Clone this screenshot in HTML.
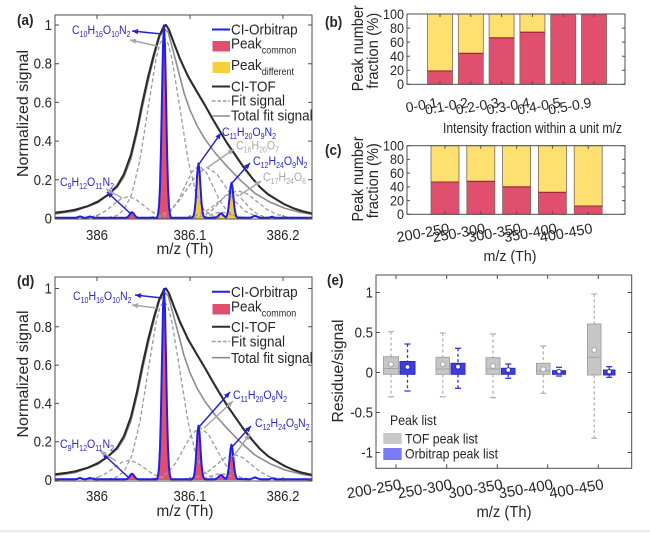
<!DOCTYPE html>
<html><head><meta charset="utf-8">
<style>
html,body{margin:0;padding:0;background:#fff;}
svg{display:block;}
text{font-family:"Liberation Sans",Arial,sans-serif;fill:#262626;}
.tk{font-size:15px;}
.tkb{font-size:14px;}
.lb{font-size:16px;}
.pl{font-size:15px;font-weight:bold;}
.lg{font-size:15px;}
.an{font-size:12px;fill:#2a2ac0;}
.ag{font-size:12px;fill:#a8a8a8;}
.sb{font-size:8px;}
.ls{font-size:10px;}
.fit{fill:none;stroke:#9a9a9a;stroke-width:1.3;stroke-dasharray:4 2.5;}
.tot{fill:none;stroke:#8c8c8c;stroke-width:1.6;stroke-linejoin:round;}
.tof{fill:none;stroke:#2b2b2b;stroke-width:2.1;stroke-linejoin:round;}
.blu{fill:none;stroke:#1f1fe6;stroke-width:2;stroke-linejoin:round;}
.ab{stroke:#2222d0;stroke-width:1.5;}
.agl{stroke:#a6a6a6;stroke-width:1.5;}
</style></head><body>
<svg width="650" height="533" viewBox="0 0 650 533" xmlns="http://www.w3.org/2000/svg">
<rect width="650" height="533" fill="#fff"/>
<defs>
<clipPath id="ca"><rect x="55" y="15" width="257" height="204"/></clipPath>
<clipPath id="cd"><rect x="55" y="277" width="257" height="204"/></clipPath>
</defs>

<!-- ===== Panel (a) curves ===== -->
<g clip-path="url(#ca)">
<polygon fill="#e0506e" points="157,218.5 158,214.4 159,206.3 160,186.3 161,148.4 162,95.3 163,45.8 164,25.2 165,45.8 166,95.3 167,148.4 168,186.3 169,206.3 170,214.4 171,218.5"/>
<polygon fill="#e0506e" points="126,218.5 127,217.3 128,216.7 129,215.6 130,214.1 131,212.8 132,212.3 133,212.8 134,214.1 135,215.6 136,216.7 137,217.3 138,218.5"/>
<polygon fill="#f2c93a" points="192,218.5 192.5,217.3 193.5,216 194.5,211.8 195.5,202.1 196.5,186.5 197.5,170.5 198.5,163.5 199.5,170.5 200.5,186.5 201.5,202.1 202.5,211.8 203.5,216 204.5,217.3 205,218.5"/>
<polygon fill="#f2c93a" points="215,218.5 216,217.4 217,216.9 218,216 219,214.9 220,213.8 221,213.4 222,213.8 223,214.9 224,216 225,216.9 226,217.4 227,218.5"/>
<polygon fill="#f2c93a" points="225.5,218.5 226.5,216.6 227.5,213.9 228.5,207.7 229.5,197.7 230.5,187.4 231.5,182.9 232.5,187.4 233.5,197.7 234.5,207.7 235.5,213.9 236.5,216.6 237.5,218.5"/>

<polyline class="fit" points="108,217.5 116,215.9 124,210 132,193.5 140,159.5 148,108.7 156,59 160,43.4 164,37.9 168,43.4 172,59 180,108.7 188,159.5 196,193.5 204,210 212,215.9 220,217.5"/>
<polyline class="fit" points="90.5,217 98,215 105.5,211 113,205 120.5,199.1 128,196.6 135.5,199.1 143,205 150.5,211 158,215 165.5,217"/>
<polyline class="fit" points="157,217.3 164,215.6 171,210.8 178,200.9 185,186.2 192,171.8 199,165.7 206,171.8 213,186.2 220,200.9 227,210.8 234,215.6 241,217.3"/>
<polyline class="fit" points="150,217.3 159.5,215.7 169,211.1 178.5,201.6 188,187.4 197.5,173.5 207,167.6 216.5,173.5 226,187.4 235.5,201.6 245,211.1 254.5,215.7 264,217.3"/>
<polyline class="fit" points="193,217.6 199.5,216.8 206,214.5 212.5,209.7 219,202.6 225.5,195.6 232,192.7 238.5,195.6 245,202.6 251.5,209.7 258,214.5 264.5,216.8 271,217.6"/>
<polyline class="fit" points="181,217.6 190.5,216.7 200,214.2 209.5,209.1 219,201.5 228.5,194 238,190.8 247.5,194 257,201.5 266.5,209.1 276,214.2 285.5,216.7 295,217.6"/>
<polyline class="fit" points="203,217.1 207.5,216 212,214.4 216.5,212.8 221,212.1 225.5,212.8 230,214.4 234.5,216 239,217.1"/>
<polyline class="fit" points="55,217.9 90,217.9"/>
<polyline class="fit" points="264,217.9 312,217.9"/>

<polyline class="tot" points="55,213.9 75,211.1 98,202.6 117,187.5 124,176.9 131,158.5 137,133.4 143,104.3 149,77.3 155,53.1 160,35.6 164,28.9 168,31.8 173,50.2 178,69.5 184,92.7 190,110.1 197,125.6 205,139.2 215,152.7 227,166.3 240,179.8 255,193.3 270,202.1 285,208.4 300,212.3 312,214.2"/>
<polyline class="tof" points="55,212.7 65,211.5 75,209.8 88,206.1 98,201.5 108,194.9 117,186 124,174 131,154.6 137,129.5 142,104.3 148,77.3 154,54 159,36.6 163.5,27 166,25 169,29.8 174,43.4 180,58.9 188,76.3 197,91.8 205,105.3 212,117.9 220,131.4 227,143 235,154.6 243,166.3 252,177.9 260,187.2 268,194.3 277,199.9 285,204.6 293,208.1 302,211.1 312,213.5"/>
<polyline class="blu" points="55,217.7 76,217.7 80,216.5 84,217.7 86,217.7 90,216.5 94,217.7 126,217.7 127,217.3 128,216.7 129,215.6 130,214.1 131,212.8 132,212.3 133,212.8 134,214.1 135,215.6 136,216.7 137,217.3 138,217.7 157,217.7 158,214.4 159,206.3 160,186.3 161,148.4 162,95.3 163,45.8 164,25.2 165,45.8 166,95.3 167,148.4 168,186.3 169,206.3 170,214.4 171,217.7 192,217.7 192.5,217.3 193.5,216 194.5,211.8 195.5,202.1 196.5,186.5 197.5,170.5 198.5,163.5 199.5,170.5 200.5,186.5 201.5,202.1 202.5,211.8 203.5,216 204.5,217.3 205,217.7 215,217.7 216,217.4 217,216.9 218,216 219,214.9 220,213.8 221,213.4 222,213.8 223,214.9 224,216 225,216.9 226,217.4 226.5,216.6 227.5,213.9 228.5,207.7 229.5,197.7 230.5,187.4 231.5,182.9 232.5,187.4 233.5,197.7 234.5,207.7 235.5,213.9 236.5,216.6 237.5,217.5 250,217.7 253,216.7 255,215.8 257,216.7 260,217.7 269,217.7 272,216.7 275,217.7 312,217.7"/>
</g>

<!-- ===== Panel (d) curves ===== -->
<g clip-path="url(#cd)">
<polygon fill="#e0506e" points="157,480 158,476 159,468 160,448.1 161,410.6 162,358 163,309.1 164,288.7 165,309.1 166,358 167,410.6 168,448.1 169,468 170,476 171,480"/>
<polygon fill="#e0506e" points="126,480 127,478.8 128,478.2 129,477.1 130,475.6 131,474.3 132,473.8 133,474.3 134,475.6 135,477.1 136,478.2 137,478.8 138,480"/>
<polygon fill="#e0506e" points="192,480 192.5,478.8 193.5,477.5 194.5,473.4 195.5,463.8 196.5,448.4 197.5,432.5 198.5,425.6 199.5,432.5 200.5,448.4 201.5,463.8 202.5,473.4 203.5,477.5 204.5,478.8 205,480"/>
<polygon fill="#e0506e" points="215,480 216,478.9 217,478.4 218,477.5 219,476.4 220,475.4 221,475 222,475.4 223,476.4 224,477.5 225,478.4 226,478.9 227,480"/>
<polygon fill="#e0506e" points="225.5,480 226.5,478.1 227.5,475.4 228.5,469.3 229.5,459.4 230.5,449.1 231.5,444.7 232.5,449.1 233.5,459.4 234.5,469.3 235.5,475.4 236.5,478.1 237.5,480"/>

<polyline class="fit" points="108,479 116,477.4 124,471.6 132,455.3 140,421.6 148,371.4 156,322.2 160,306.8 164,301.3 168,306.8 172,322.2 180,371.4 188,421.6 196,455.3 204,471.6 212,477.4 220,479"/>
<polyline class="fit" points="91.5,478.6 99,476.8 106.5,473.2 114,467.8 121.5,462.5 129,460.2 136.5,462.5 144,467.8 151.5,473.2 159,476.8 166.5,478.6"/>
<polyline class="fit" points="152,478.8 160,477.1 168,472.4 176,462.6 184,448 192,433.8 200,427.7 208,433.8 216,448 224,462.6 232,472.4 240,477.1 248,478.8"/>
<polyline class="fit" points="183,479.1 191.5,478.3 200,476 208.5,471.3 217,464.3 225.5,457.4 234,454.5 242.5,457.4 251,464.3 259.5,471.3 268,476 276.5,478.3 285,479.1"/>
<polyline class="fit" points="203,478.6 207.5,477.5 212,475.9 216.5,474.4 221,473.7 225.5,474.4 230,475.9 234.5,477.5 239,478.6"/>
<polyline class="fit" points="55,479.4 92,479.4"/>
<polyline class="fit" points="285,479.4 312,479.4"/>

<polyline class="tot" points="55,475.4 75,472.7 98,464.3 117,449.4 124,438.8 131,420.6 137,395.7 143,367 149,340.2 155,316.3 160,299 164,292.3 168,295.2 173,313.4 178,332.5 184,355.5 190,372.8 197,388.1 205,401.5 215,414.9 227,428.3 240,441.7 255,455.1 270,463.7 285,470 300,473.9 312,475.8"/>
<polyline class="tof" points="55,474.3 65,473.1 75,471.4 88,467.7 98,463.1 108,456.6 117,447.8 124,436 131,416.8 137,391.9 142,367 148,340.2 154,317.2 159,300 163.5,290.4 166,288.5 169,293.3 174,306.7 180,322 188,339.2 197,354.6 205,368 212,380.4 220,393.8 227,405.3 235,416.8 243,428.3 252,439.8 260,449 268,456.1 277,461.6 285,466.2 293,469.7 302,472.7 312,475"/>
<polyline class="blu" points="55,479.2 76,479.2 80,478 84,479.2 86,479.2 90,478 94,479.2 126,479.2 127,478.8 128,478.2 129,477.1 130,475.6 131,474.3 132,473.8 133,474.3 134,475.6 135,477.1 136,478.2 137,478.8 138,479.2 157,479.2 158,476 159,468 160,448.1 161,410.6 162,358 163,309.1 164,288.7 165,309.1 166,358 167,410.6 168,448.1 169,468 170,476 171,479.2 192,479.2 192.5,478.8 193.5,477.5 194.5,473.4 195.5,463.8 196.5,448.4 197.5,432.5 198.5,425.6 199.5,432.5 200.5,448.4 201.5,463.8 202.5,473.4 203.5,477.5 204.5,478.8 205,479.2 215,479.2 216,478.9 217,478.4 218,477.5 219,476.4 220,475.4 221,475 222,475.4 223,476.4 224,477.5 225,478.4 226,478.9 226.5,478.1 227.5,475.4 228.5,469.3 229.5,459.4 230.5,449.1 231.5,444.7 232.5,449.1 233.5,459.4 234.5,469.3 235.5,475.4 236.5,478.1 237.5,479 250,479.2 253,478.2 255,477.3 257,478.2 260,479.2 269,479.2 272,478.2 275,479.2 312,479.2"/>
</g>

<!-- ===== Bars (b) ===== -->
<g stroke="none">
<rect x="427.5" y="14" width="25" height="70.3" fill="#fde070"/>
<rect x="458.3" y="14" width="25" height="70.3" fill="#fde070"/>
<rect x="489.1" y="14" width="25" height="70.3" fill="#fde070"/>
<rect x="519.9" y="14" width="25" height="70.3" fill="#fde070"/>
<rect x="427.5" y="70.94" width="25" height="13.36" fill="#e0506e"/>
<rect x="458.3" y="53.37" width="25" height="30.93" fill="#e0506e"/>
<rect x="489.1" y="37.9" width="25" height="46.4" fill="#e0506e"/>
<rect x="519.9" y="32.28" width="25" height="52.02" fill="#e0506e"/>
<rect x="550.7" y="14" width="25" height="70.3" fill="#e0506e"/>
<rect x="581.5" y="14" width="25" height="70.3" fill="#e0506e"/>
</g>
<g fill="none" stroke="#7a6a5a" stroke-width="0.8">
<rect x="427.5" y="14" width="25" height="70.3"/>
<rect x="458.3" y="14" width="25" height="70.3"/>
<rect x="489.1" y="14" width="25" height="70.3"/>
<rect x="519.9" y="14" width="25" height="70.3"/>
<rect x="550.7" y="14" width="25" height="70.3"/>
<rect x="581.5" y="14" width="25" height="70.3"/>
</g>
<g stroke="#9b2a3a" stroke-width="1.2">
<line x1="427.5" y1="70.94" x2="452.5" y2="70.94"/>
<line x1="458.3" y1="53.37" x2="483.3" y2="53.37"/>
<line x1="489.1" y1="37.9" x2="514.1" y2="37.9"/>
<line x1="519.9" y1="32.28" x2="544.9" y2="32.28"/>
</g>

<!-- ===== Bars (c) ===== -->
<g stroke="none">
<rect x="431" y="145.7" width="28" height="68.6" fill="#fde070"/>
<rect x="466.8" y="145.7" width="28" height="68.6" fill="#fde070"/>
<rect x="502.6" y="145.7" width="28" height="68.6" fill="#fde070"/>
<rect x="538.4" y="145.7" width="28" height="68.6" fill="#fde070"/>
<rect x="574.2" y="145.7" width="28" height="68.6" fill="#fde070"/>
<rect x="431" y="182.06" width="28" height="32.24" fill="#e0506e"/>
<rect x="466.8" y="181.37" width="28" height="32.93" fill="#e0506e"/>
<rect x="502.6" y="186.86" width="28" height="27.44" fill="#e0506e"/>
<rect x="538.4" y="192.35" width="28" height="21.95" fill="#e0506e"/>
<rect x="574.2" y="206.07" width="28" height="8.23" fill="#e0506e"/>
</g>
<g fill="none" stroke="#7a6a5a" stroke-width="0.8">
<rect x="431" y="145.7" width="28" height="68.6"/>
<rect x="466.8" y="145.7" width="28" height="68.6"/>
<rect x="502.6" y="145.7" width="28" height="68.6"/>
<rect x="538.4" y="145.7" width="28" height="68.6"/>
<rect x="574.2" y="145.7" width="28" height="68.6"/>
</g>
<g stroke="#9b2a3a" stroke-width="1.2">
<line x1="431" y1="182.06" x2="459" y2="182.06"/>
<line x1="466.8" y1="181.37" x2="494.8" y2="181.37"/>
<line x1="502.6" y1="186.86" x2="530.6" y2="186.86"/>
<line x1="538.4" y1="192.35" x2="566.4" y2="192.35"/>
<line x1="574.2" y1="206.07" x2="602.2" y2="206.07"/>
</g>

<!-- ===== Boxplots (e) ===== -->
<g stroke="#b4b4b4" stroke-width="1.3" stroke-dasharray="3 2.5">
<line x1="391" y1="331.7" x2="391" y2="356.7"/><line x1="391" y1="374.3" x2="391" y2="396.7"/>
<line x1="442.75" y1="333" x2="442.75" y2="357.3"/><line x1="442.75" y1="374.3" x2="442.75" y2="396.7"/>
<line x1="493" y1="334" x2="493" y2="357.7"/><line x1="493" y1="374.3" x2="493" y2="397.7"/>
<line x1="543.25" y1="346" x2="543.25" y2="363.3"/><line x1="543.25" y1="374.3" x2="543.25" y2="393.3"/>
<line x1="594.25" y1="294" x2="594.25" y2="324"/><line x1="594.25" y1="375" x2="594.25" y2="438.3"/>
</g>
<g stroke="#b4b4b4" stroke-width="1.3">
<line x1="388" y1="331.7" x2="394" y2="331.7"/><line x1="388" y1="396.7" x2="394" y2="396.7"/>
<line x1="439.75" y1="333" x2="445.75" y2="333"/><line x1="439.75" y1="396.7" x2="445.75" y2="396.7"/>
<line x1="490" y1="334" x2="496" y2="334"/><line x1="490" y1="397.7" x2="496" y2="397.7"/>
<line x1="540.25" y1="346" x2="546.25" y2="346"/><line x1="540.25" y1="393.3" x2="546.25" y2="393.3"/>
<line x1="591.25" y1="294" x2="597.25" y2="294"/><line x1="591.25" y1="438.3" x2="597.25" y2="438.3"/>
</g>
<g fill="#c6c6c6" stroke="#a4a4a4" stroke-width="1">
<rect x="383.5" y="356.7" width="15" height="17.6"/>
<rect x="436" y="357.3" width="13.5" height="17"/>
<rect x="486" y="357.7" width="14" height="16.6"/>
<rect x="536.5" y="363.3" width="13.5" height="11"/>
<rect x="587.5" y="324" width="13.5" height="51"/>
</g>
<g stroke="#a4a4a4" stroke-width="1">
<line x1="383.5" y1="368.5" x2="398.5" y2="368.5"/>
<line x1="436" y1="369" x2="449.5" y2="369"/>
<line x1="486" y1="369" x2="500" y2="369"/>
<line x1="536.5" y1="371" x2="550" y2="371"/>
<line x1="587.5" y1="357.3" x2="601" y2="357.3"/>
</g>
<g fill="#fff" stroke="#a4a4a4" stroke-width="1">
<circle cx="391" cy="364.3" r="2.4"/>
<circle cx="442.75" cy="364.3" r="2.4"/>
<circle cx="493" cy="366" r="2.4"/>
<circle cx="543.25" cy="369.3" r="2.4"/>
<circle cx="594.25" cy="350" r="2.4"/>
</g>
<g stroke="#3434d4" stroke-width="1.3" stroke-dasharray="3 2.5">
<line x1="407.5" y1="344" x2="407.5" y2="361.5"/><line x1="407.5" y1="374.3" x2="407.5" y2="391"/>
<line x1="458" y1="348.3" x2="458" y2="363.3"/><line x1="458" y1="374.3" x2="458" y2="388.3"/>
<line x1="508.25" y1="364" x2="508.25" y2="368.3"/><line x1="508.25" y1="374.3" x2="508.25" y2="378.3"/>
<line x1="609.25" y1="366.7" x2="609.25" y2="370"/><line x1="609.25" y1="375" x2="609.25" y2="377.3"/>
</g>
<g stroke="#3434d4" stroke-width="1.3">
<line x1="404.5" y1="344" x2="410.5" y2="344"/><line x1="404.5" y1="391" x2="410.5" y2="391"/>
<line x1="455" y1="348.3" x2="461" y2="348.3"/><line x1="455" y1="388.3" x2="461" y2="388.3"/>
<line x1="505.25" y1="364" x2="511.25" y2="364"/><line x1="505.25" y1="378.3" x2="511.25" y2="378.3"/>
<line x1="556" y1="367.3" x2="562" y2="367.3"/><line x1="556" y1="376" x2="562" y2="376"/>
<line x1="606.25" y1="366.7" x2="612.25" y2="366.7"/><line x1="606.25" y1="377.3" x2="612.25" y2="377.3"/>
</g>
<g fill="#3e3edc" stroke="#2a2ac0" stroke-width="1">
<rect x="400" y="361.5" width="15" height="12.8"/>
<rect x="451" y="363.3" width="14" height="11"/>
<rect x="501.5" y="368.3" width="13.5" height="6"/>
<rect x="552.5" y="370.7" width="13" height="3.6"/>
<rect x="603.5" y="370" width="11.5" height="5"/>
</g>
<g fill="#fff" stroke="#2a2ac0" stroke-width="1">
<circle cx="407.5" cy="367" r="2.4"/>
<circle cx="458" cy="366.7" r="2.4"/>
<circle cx="508.25" cy="370" r="2.4"/>
<circle cx="559" cy="371.5" r="2.2"/>
<circle cx="609.25" cy="371.7" r="2.2"/>
</g>

<!-- ===== Axes boxes & ticks ===== -->
<g fill="none" stroke="#4d4d4d" stroke-width="1">
<rect x="55" y="15" width="257" height="204"/>
<rect x="55" y="277" width="257" height="204"/>
<rect x="407" y="14" width="218" height="70.3"/>
<rect x="407" y="145.7" width="218" height="68.6"/>
<rect x="376" y="275" width="255.7" height="193.3"/>
<path d="M97 219V215M190 219V215M283 219V215M97 15V19M190 15V19M283 15V19
M55 218.5H59M55 179.8H59M55 141.1H59M55 102.4H59M55 63.7H59M55 25H59
M312 218.5H308M312 179.8H308M312 141.1H308M312 102.4H308M312 63.7H308M312 25H308
M97 481V477M190 481V477M283 481V477M97 277V281M190 277V281M283 277V281
M55 480H59M55 441.7H59M55 403.4H59M55 365.1H59M55 326.8H59M55 288.5H59
M312 480H308M312 441.7H308M312 403.4H308M312 365.1H308M312 326.8H308M312 288.5H308
M440 84.3V81.3M470.8 84.3V81.3M501.6 84.3V81.3M532.4 84.3V81.3M563.2 84.3V81.3M594 84.3V81.3
M440 14V17M470.8 14V17M501.6 14V17M532.4 14V17M563.2 14V17M594 14V17
M407 84.3H410M407 70.2H410M407 56.2H410M407 42.1H410M407 28.1H410M407 14H410
M625 84.3H622M625 70.2H622M625 56.2H622M625 42.1H622M625 28.1H622M625 14H622
M445 214.3V211.3M480.8 214.3V211.3M516.6 214.3V211.3M552.4 214.3V211.3M588.2 214.3V211.3
M445 145.7V148.7M480.8 145.7V148.7M516.6 145.7V148.7M552.4 145.7V148.7M588.2 145.7V148.7
M407 214.3H410M407 200.6H410M407 186.9H410M407 173.1H410M407 159.4H410M407 145.7H410
M625 214.3H622M625 200.6H622M625 186.9H622M625 173.1H622M625 159.4H622M625 145.7H622
M396 468.3V464.3M446.7 468.3V464.3M497.3 468.3V464.3M547.7 468.3V464.3M598.3 468.3V464.3
M396 275V279M446.7 275V279M497.3 275V279M547.7 275V279M598.3 275V279
M376 292.5H380M376 332.5H380M376 372.5H380M376 412.5H380M376 452.5H380
M631.7 292.5H627.7M631.7 332.5H627.7M631.7 372.5H627.7M631.7 412.5H627.7M631.7 452.5H627.7"/>
</g>

<!-- ===== Arrows ===== -->
<line class="ab" x1="132" y1="31" x2="162" y2="34"/><polygon fill="#2222d0" points="132,31 138.23,29.01 137.71,34.19"/>
<line class="agl" x1="130" y1="40" x2="157" y2="46"/><polygon fill="#a6a6a6" points="130,40 136.42,38.76 135.3,43.84"/>
<line class="ab" x1="221" y1="133" x2="199" y2="164"/><polygon fill="#2222d0" points="221,133 219.65,139.4 215.41,136.38"/>
<line class="agl" x1="234" y1="149" x2="207" y2="168"/><polygon fill="#a6a6a6" points="234,149 230.59,154.59 227.59,150.33"/>
<line class="ab" x1="250" y1="163" x2="232" y2="183"/><polygon fill="#2222d0" points="250,163 247.92,169.2 244.06,165.72"/>
<line class="agl" x1="261" y1="181" x2="240" y2="195"/><polygon fill="#a6a6a6" points="261,181 257.45,186.49 254.57,182.17"/>
<line class="ab" x1="107" y1="192" x2="131" y2="214"/><polygon fill="#2222d0" points="107,192 113.18,194.14 109.66,197.98"/>
<line class="agl" x1="106" y1="189" x2="122" y2="198"/><polygon fill="#a6a6a6" points="106,189 112.5,189.68 109.96,194.2"/>

<line class="ab" x1="135" y1="295" x2="162" y2="298"/><polygon fill="#2222d0" points="135,295 141.25,293.08 140.67,298.24"/>
<line class="agl" x1="132" y1="305" x2="157" y2="308"/><polygon fill="#a6a6a6" points="132,305 138.27,303.13 137.65,308.29"/>
<line class="ab" x1="230" y1="392" x2="199" y2="427"/><polygon fill="#2222d0" points="230,392 227.97,398.21 224.07,394.77"/>
<line class="agl" x1="233" y1="401" x2="204" y2="428"/><polygon fill="#a6a6a6" points="233,401 230.38,406.99 226.84,403.19"/>
<line class="ab" x1="251" y1="426" x2="232" y2="447"/><polygon fill="#2222d0" points="251,426 248.9,432.19 245.04,428.71"/>
<line class="agl" x1="250" y1="434" x2="233" y2="457"/><polygon fill="#a6a6a6" points="250,434 248.53,440.36 244.35,437.28"/>
<line class="ab" x1="102" y1="453" x2="128" y2="477"/><polygon fill="#2222d0" points="102,453 108.17,455.16 104.65,458.98"/>
<line class="agl" x1="100" y1="451" x2="116" y2="461"/><polygon fill="#a6a6a6" points="100,451 106.47,451.98 103.71,456.38"/>

<!-- ===== Panel (a) text ===== -->
<text class="pl" transform="translate(17,25) scale(0.9,1)">(a)</text>
<g class="tk" text-anchor="end">
<text transform="translate(52,223.5) scale(0.88,1)">0</text>
<text transform="translate(52,184.8) scale(0.88,1)">0.2</text>
<text transform="translate(52,146.1) scale(0.88,1)">0.4</text>
<text transform="translate(52,107.4) scale(0.88,1)">0.6</text>
<text transform="translate(52,68.7) scale(0.88,1)">0.8</text>
<text transform="translate(52,30) scale(0.88,1)">1</text>
</g>
<g class="tk" text-anchor="middle">
<text transform="translate(97,240) scale(0.88,1)">386</text>
<text transform="translate(190,240) scale(0.88,1)">386.1</text>
<text transform="translate(283,240) scale(0.88,1)">386.2</text>
</g>
<text class="lb" x="185" y="254" text-anchor="middle" textLength="57" lengthAdjust="spacingAndGlyphs">m/z (Th)</text>
<text class="lb" transform="translate(28,113.5) rotate(-90)" text-anchor="middle" textLength="127" lengthAdjust="spacingAndGlyphs">Normalized signal</text>
<line x1="212" y1="29.5" x2="230" y2="29.5" stroke="#1f1fe6" stroke-width="2"/>
<rect x="212.5" y="41" width="17.5" height="10.5" fill="#e0506e"/>
<rect x="212.5" y="62" width="17.5" height="11" fill="#f5cf3c"/>
<line x1="212" y1="86.5" x2="230" y2="86.5" stroke="#2b2b2b" stroke-width="2"/>
<line x1="212" y1="101" x2="230" y2="101" stroke="#9a9a9a" stroke-width="1.4" stroke-dasharray="3.5 2"/>
<line x1="212" y1="116" x2="230" y2="116" stroke="#8c8c8c" stroke-width="1.6"/>
<g class="lg">
<text transform="translate(231,34.5) scale(0.9,1)">CI-Orbitrap</text>
<text transform="translate(231,48.5) scale(0.9,1)">Peak<tspan class="ls" dy="5">common</tspan></text>
<text transform="translate(231,70) scale(0.9,1)">Peak<tspan class="ls" dy="5">different</tspan></text>
<text transform="translate(231,91.5) scale(0.9,1)">CI-TOF</text>
<text transform="translate(231,105.5) scale(0.9,1)">Fit signal</text>
<text transform="translate(231,120.5) scale(0.9,1)">Total fit signal</text>
</g>
<text class="an" transform="translate(72,34) scale(0.88,1)">C<tspan class="sb" dy="3">10</tspan><tspan dy="-3">H</tspan><tspan class="sb" dy="3">16</tspan><tspan dy="-3">O</tspan><tspan class="sb" dy="3">10</tspan><tspan dy="-3">N</tspan><tspan class="sb" dy="3">2</tspan></text>
<text class="an" transform="translate(222,136) scale(0.88,1)">C<tspan class="sb" dy="3">11</tspan><tspan dy="-3">H</tspan><tspan class="sb" dy="3">20</tspan><tspan dy="-3">O</tspan><tspan class="sb" dy="3">9</tspan><tspan dy="-3">N</tspan><tspan class="sb" dy="3">2</tspan></text>
<text class="ag" transform="translate(236,149.5) scale(0.88,1)">C<tspan class="sb" dy="3">16</tspan><tspan dy="-3">H</tspan><tspan class="sb" dy="3">20</tspan><tspan dy="-3">O</tspan><tspan class="sb" dy="3">7</tspan></text>
<text class="an" transform="translate(253,165) scale(0.88,1)">C<tspan class="sb" dy="3">12</tspan><tspan dy="-3">H</tspan><tspan class="sb" dy="3">24</tspan><tspan dy="-3">O</tspan><tspan class="sb" dy="3">9</tspan><tspan dy="-3">N</tspan><tspan class="sb" dy="3">2</tspan></text>
<text class="ag" transform="translate(263,181) scale(0.88,1)">C<tspan class="sb" dy="3">17</tspan><tspan dy="-3">H</tspan><tspan class="sb" dy="3">24</tspan><tspan dy="-3">O</tspan><tspan class="sb" dy="3">6</tspan></text>
<text class="an" transform="translate(60,186) scale(0.88,1)">C<tspan class="sb" dy="3">9</tspan><tspan dy="-3">H</tspan><tspan class="sb" dy="3">12</tspan><tspan dy="-3">O</tspan><tspan class="sb" dy="3">11</tspan><tspan dy="-3">N</tspan><tspan class="sb" dy="3">2</tspan></text>

<!-- ===== Panel (d) text ===== -->
<text class="pl" transform="translate(17,286) scale(0.9,1)">(d)</text>
<g class="tk" text-anchor="end">
<text transform="translate(52,485) scale(0.88,1)">0</text>
<text transform="translate(52,446.7) scale(0.88,1)">0.2</text>
<text transform="translate(52,408.4) scale(0.88,1)">0.4</text>
<text transform="translate(52,370.1) scale(0.88,1)">0.6</text>
<text transform="translate(52,331.8) scale(0.88,1)">0.8</text>
<text transform="translate(52,293.5) scale(0.88,1)">1</text>
</g>
<g class="tk" text-anchor="middle">
<text transform="translate(97,501) scale(0.88,1)">386</text>
<text transform="translate(190,501) scale(0.88,1)">386.1</text>
<text transform="translate(283,501) scale(0.88,1)">386.2</text>
</g>
<text class="lb" x="185" y="516" text-anchor="middle" textLength="57" lengthAdjust="spacingAndGlyphs">m/z (Th)</text>
<text class="lb" transform="translate(28,374) rotate(-90)" text-anchor="middle" textLength="127" lengthAdjust="spacingAndGlyphs">Normalized signal</text>
<line x1="212" y1="291.7" x2="230" y2="291.7" stroke="#1f1fe6" stroke-width="2"/>
<rect x="212.5" y="304" width="17.5" height="10.5" fill="#e0506e"/>
<line x1="212" y1="326.7" x2="230" y2="326.7" stroke="#2b2b2b" stroke-width="2"/>
<line x1="212" y1="341.5" x2="230" y2="341.5" stroke="#9a9a9a" stroke-width="1.4" stroke-dasharray="3.5 2"/>
<line x1="212" y1="357.7" x2="230" y2="357.7" stroke="#8c8c8c" stroke-width="1.6"/>
<g class="lg">
<text transform="translate(231,297) scale(0.9,1)">CI-Orbitrap</text>
<text transform="translate(231,311.5) scale(0.9,1)">Peak<tspan class="ls" dy="5">common</tspan></text>
<text transform="translate(231,332) scale(0.9,1)">CI-TOF</text>
<text transform="translate(231,346.5) scale(0.9,1)">Fit signal</text>
<text transform="translate(231,363) scale(0.9,1)">Total fit signal</text>
</g>
<text class="an" transform="translate(73,300) scale(0.88,1)">C<tspan class="sb" dy="3">10</tspan><tspan dy="-3">H</tspan><tspan class="sb" dy="3">16</tspan><tspan dy="-3">O</tspan><tspan class="sb" dy="3">10</tspan><tspan dy="-3">N</tspan><tspan class="sb" dy="3">2</tspan></text>
<text class="an" transform="translate(233,399) scale(0.88,1)">C<tspan class="sb" dy="3">11</tspan><tspan dy="-3">H</tspan><tspan class="sb" dy="3">20</tspan><tspan dy="-3">O</tspan><tspan class="sb" dy="3">9</tspan><tspan dy="-3">N</tspan><tspan class="sb" dy="3">2</tspan></text>
<text class="an" transform="translate(255,427) scale(0.88,1)">C<tspan class="sb" dy="3">12</tspan><tspan dy="-3">H</tspan><tspan class="sb" dy="3">24</tspan><tspan dy="-3">O</tspan><tspan class="sb" dy="3">9</tspan><tspan dy="-3">N</tspan><tspan class="sb" dy="3">2</tspan></text>
<text class="an" transform="translate(60,448) scale(0.88,1)">C<tspan class="sb" dy="3">9</tspan><tspan dy="-3">H</tspan><tspan class="sb" dy="3">12</tspan><tspan dy="-3">O</tspan><tspan class="sb" dy="3">11</tspan><tspan dy="-3">N</tspan><tspan class="sb" dy="3">2</tspan></text>

<!-- ===== Panel (b) text ===== -->
<text class="pl" transform="translate(325,27) scale(0.9,1)">(b)</text>
<g class="tkb" text-anchor="end">
<text transform="translate(404,89) scale(0.9,1)">0</text>
<text transform="translate(404,75) scale(0.9,1)">20</text>
<text transform="translate(404,61) scale(0.9,1)">40</text>
<text transform="translate(404,47) scale(0.9,1)">60</text>
<text transform="translate(404,33) scale(0.9,1)">80</text>
<text transform="translate(404,19) scale(0.9,1)">100</text>
</g>
<g class="tkb" text-anchor="end">
<text transform="translate(438,107) rotate(-10)">0-0.1</text>
<text transform="translate(468.8,107) rotate(-10)">0.1-0.2</text>
<text transform="translate(499.6,107) rotate(-10)">0.2-0.3</text>
<text transform="translate(530.4,107) rotate(-10)">0.3-0.4</text>
<text transform="translate(561.2,107) rotate(-10)">0.4-0.5</text>
<text transform="translate(592,107) rotate(-10)">0.5-0.9</text>
</g>
<text x="532.5" y="133" font-size="15" text-anchor="middle" textLength="179" lengthAdjust="spacingAndGlyphs">Intensity fraction within a unit m/z</text>
<text class="lb" transform="translate(363,48.3) rotate(-90)" text-anchor="middle" textLength="86" lengthAdjust="spacingAndGlyphs">Peak number</text>
<text class="lb" transform="translate(378,50.8) rotate(-90)" text-anchor="middle" textLength="76" lengthAdjust="spacingAndGlyphs">fraction (%)</text>

<!-- ===== Panel (c) text ===== -->
<text class="pl" transform="translate(325,155) scale(0.9,1)">(c)</text>
<g class="tkb" text-anchor="end">
<text transform="translate(404,219) scale(0.9,1)">0</text>
<text transform="translate(404,205.3) scale(0.9,1)">20</text>
<text transform="translate(404,191.6) scale(0.9,1)">40</text>
<text transform="translate(404,177.8) scale(0.9,1)">60</text>
<text transform="translate(404,164.1) scale(0.9,1)">80</text>
<text transform="translate(404,150.4) scale(0.9,1)">100</text>
</g>
<g font-size="14.5" text-anchor="end">
<text transform="translate(450,233) rotate(-10)">200-250</text>
<text transform="translate(485.8,233) rotate(-10)">250-300</text>
<text transform="translate(521.6,233) rotate(-10)">300-350</text>
<text transform="translate(557.4,233) rotate(-10)">350-400</text>
<text transform="translate(593.2,233) rotate(-10)">400-450</text>
</g>
<text x="510" y="261" font-size="15" text-anchor="middle" textLength="53" lengthAdjust="spacingAndGlyphs">m/z (Th)</text>
<text class="lb" transform="translate(363,179) rotate(-90)" text-anchor="middle" textLength="85" lengthAdjust="spacingAndGlyphs">Peak number</text>
<text class="lb" transform="translate(378,180.7) rotate(-90)" text-anchor="middle" textLength="75" lengthAdjust="spacingAndGlyphs">fraction (%)</text>

<!-- ===== Panel (e) text ===== -->
<text class="pl" transform="translate(327,285) scale(0.9,1)">(e)</text>
<g class="tk" text-anchor="end">
<text transform="translate(373,297.5) scale(0.88,1)">1</text>
<text transform="translate(373,337.5) scale(0.88,1)">0.5</text>
<text transform="translate(373,377.5) scale(0.88,1)">0</text>
<text transform="translate(373,417.5) scale(0.88,1)">-0.5</text>
<text transform="translate(373,457.5) scale(0.88,1)">-1</text>
</g>
<g class="tk" text-anchor="end">
<text transform="translate(402,489) rotate(-10)">200-250</text>
<text transform="translate(452.7,489) rotate(-10)">250-300</text>
<text transform="translate(503.3,489) rotate(-10)">300-350</text>
<text transform="translate(553.7,489) rotate(-10)">350-400</text>
<text transform="translate(604.3,489) rotate(-10)">400-450</text>
</g>
<text class="lb" x="504" y="517" text-anchor="middle" textLength="55" lengthAdjust="spacingAndGlyphs">m/z (Th)</text>
<text class="lb" transform="translate(343,371) rotate(-90)" text-anchor="middle" textLength="103" lengthAdjust="spacingAndGlyphs">Residue/signal</text>
<rect x="383.3" y="433" width="18.4" height="11" fill="#c8c8c8"/>
<rect x="383.3" y="448" width="18.4" height="12" fill="#7a7af2"/>
<g font-size="14">
<text transform="translate(390,425) scale(0.88,1)">Peak list</text>
<text transform="translate(405,443.5) scale(0.88,1)">TOF peak list</text>
<text transform="translate(405,458.5) scale(0.88,1)">Orbitrap peak list</text>
</g>

<line x1="0" y1="531" x2="650" y2="531" stroke="#d6d6d6" stroke-width="1"/>
</svg>
</body></html>
